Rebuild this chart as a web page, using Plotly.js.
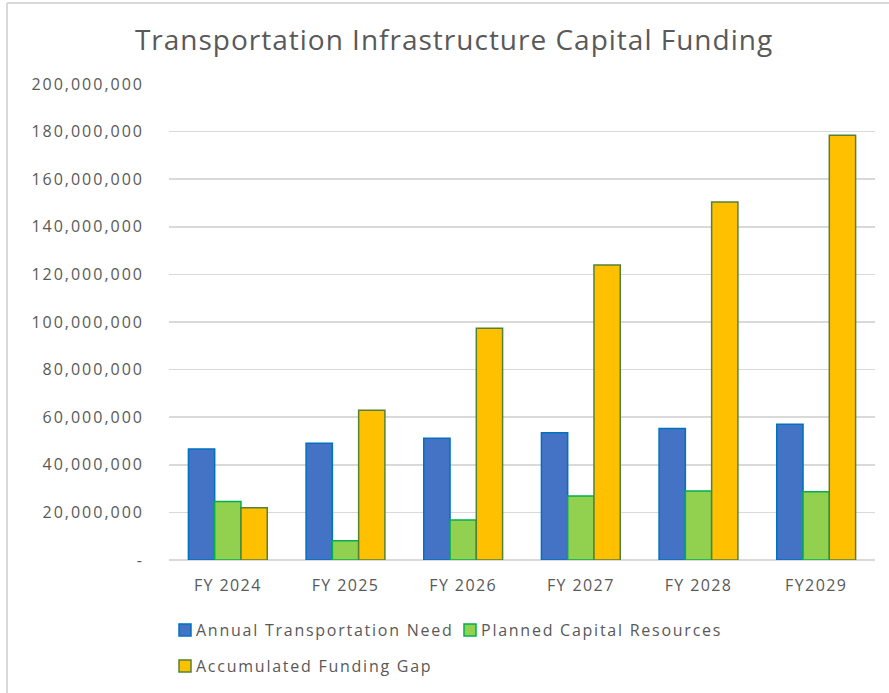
<!DOCTYPE html>
<html>
<head>
<meta charset="utf-8">
<script src="https://cdn.plot.ly/plotly-3.0.1.min.js"></script>
<style>
  html, body { margin: 0; padding: 0; background: #fff; }
  #chart { width: 889px; height: 693px; }
  #chart .ytick text { letter-spacing: 2px; }
  #chart .legendtext, #chart .legend text, #chart .legend2 text { letter-spacing: 1.75px; }
  #chart .xtick text { letter-spacing: 1.4px; }
  #chart .gtitle { letter-spacing: 1px; }
  #chart .legendsymbols { transform: translate(9px, 0px); }
</style>
</head>
<body>
<div id="chart"></div>
<script>
const categories = ["FY 2024", "FY 2025", "FY 2026", "FY 2027", "FY 2028", "FY2029"];
const annualNeed = [46600000, 49100000, 51200000, 53500000, 55300000, 57000000];
const plannedResources = [24600000, 8100000, 16800000, 26900000, 29000000, 28700000];
const fundingGap = [22000000, 62900000, 97400000, 123900000, 150400000, 178500000];
const yTickVals = [0, 20000000, 40000000, 60000000, 80000000, 100000000, 120000000, 140000000, 160000000, 180000000, 200000000];
const yTickText = ["-", "20,000,000", "40,000,000", "60,000,000", "80,000,000", "100,000,000", "120,000,000", "140,000,000", "160,000,000", "180,000,000", "200,000,000"];

const textColor = "#595959";
const font = "'Open Sans', 'Noto Sans', sans-serif";

const traces = [
  { type: "bar", name: "Annual Transportation Need", x: categories, y: annualNeed,
    marker: { color: "#4472C4", line: { color: "#0070C0", width: 1.5 } }, legend: "legend" },
  { type: "bar", name: "Planned Capital Resources", x: categories, y: plannedResources,
    marker: { color: "#92D050", line: { color: "#00B050", width: 1.5 } }, legend: "legend" },
  { type: "bar", name: "Accumulated Funding Gap", x: categories, y: fundingGap,
    marker: { color: "#FFC000", line: { color: "#548235", width: 1.5 } }, legend: "legend2" }
];

const layout = {
  width: 889, height: 693,
  margin: { l: 169, r: 14, t: 84, b: 133 },
  paper_bgcolor: "#fff", plot_bgcolor: "#fff",
  font: { family: font, color: textColor, size: 16 },
  title: { text: "Transportation Infrastructure Capital Funding", font: { family: font, size: 28, color: textColor },
           x: 454/889, xref: "container", xanchor: "center", y: 1 - 40/693, yref: "container", yanchor: "middle" },
  barmode: "group", bargap: 0.33, bargroupgap: 0,
  xaxis: { type: "category", showgrid: false, showline: false, ticks: "", ticklabelstandoff: 14,
           tickfont: { family: font, size: 16, color: textColor }, fixedrange: true },
  yaxis: { range: [0, 200000000], tickvals: yTickVals, ticktext: yTickText, showgrid: true,
           gridcolor: "#D9D9D9", gridwidth: 1.5, zeroline: true, zerolinecolor: "#D9D9D9", zerolinewidth: 1.5,
           showline: false, ticks: "", ticklabelstandoff: 24,
           tickfont: { family: font, size: 16, color: textColor }, fixedrange: true },
  showlegend: true,
  legend: { orientation: "h", xref: "container", yref: "container", x: 156/889, y: 1 - 613/693,
            xanchor: "left", yanchor: "top", entrywidth: 240, entrywidthmode: "pixels",
            font: { family: font, size: 16, color: textColor }, bgcolor: "rgba(0,0,0,0)", traceorder: "normal" },
  legend2: { orientation: "h", xref: "container", yref: "container", x: 156/889, y: 1 - 649/693,
            xanchor: "left", yanchor: "top", entrywidth: 300, entrywidthmode: "pixels",
            font: { family: font, size: 16, color: textColor }, bgcolor: "rgba(0,0,0,0)" },
  shapes: [
    { type: "line", xref: "paper", yref: "paper", x0: -162/706, x1: -162/706, y0: -133/476, y1: 557/476,
      line: { color: "#D9D9D9", width: 2 } },
    { type: "line", xref: "paper", yref: "paper", x0: -162/706, x1: 720/706, y0: 557/476, y1: 557/476,
      line: { color: "#D9D9D9", width: 2 } }
  ]
};

Plotly.newPlot("chart", traces, layout, { displayModeBar: false, staticPlot: true }).then(function () {
  document.querySelectorAll("#chart text.legendtext").forEach(function (t) { t.style.letterSpacing = "1.75px"; });
});
</script>
</body>
</html>
